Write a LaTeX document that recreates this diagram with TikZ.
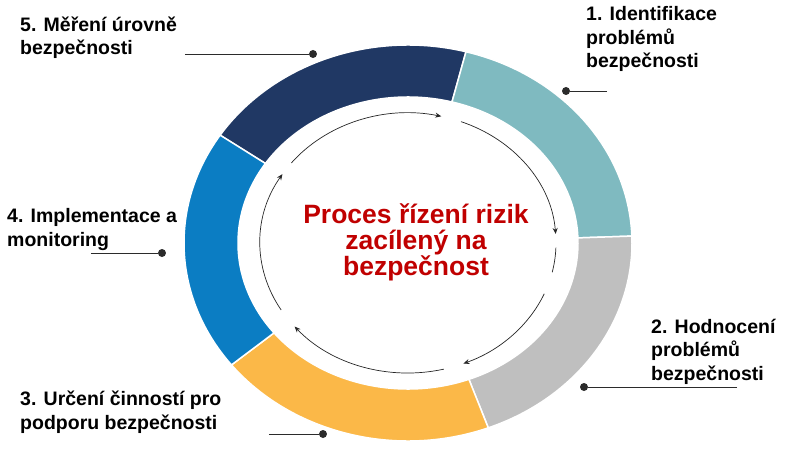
\documentclass[tikz,border=0pt]{standalone}
\usepackage{fontspec}
\setmainfont{Liberation Sans}
\usepackage{tikz}
\usetikzlibrary{arrows.meta,positioning}
\definecolor{segnavy}{HTML}{203864}
\definecolor{segteal}{HTML}{7FBAC0}
\definecolor{seggray}{HTML}{BFBFBF}
\definecolor{segorange}{HTML}{FBB848}
\definecolor{segblue}{HTML}{0B7DC3}
\definecolor{titlered}{HTML}{C00000}
\definecolor{leadgray}{HTML}{2B2B2B}
\tikzset{
  steplabel/.style={anchor=base west,align=left,inner sep=0pt,font=\fontsize{19.5}{23.5}\selectfont\bfseries},
  leaddot/.style={fill=leadgray,circle,inner sep=0pt,minimum size=8pt},
  leadline/.style={draw=leadgray,line width=0.9pt},
  cyclearc/.style={draw=black!85,line width=0.7pt}
}
\begin{document}
\begin{tikzpicture}[x=1pt,y=1pt]
      \useasboundingbox (-408,-207) rectangle (392,243);

      % ring segments
      \foreach \a/\b/\c in {75/147/segnavy,2/75/segteal,-69/2/seggray,-142/-69/segorange,147/218/segblue}
        \filldraw[fill=\c,draw=white,line width=1.5pt] (\a:224 and 198)
          arc[start angle=\a,end angle=\b,x radius=224pt,y radius=198pt]
          -- (\b:170 and 146)
          arc[start angle=\b,end angle=\a,x radius=170pt,y radius=146pt] -- cycle;

      % inner cycle
      \foreach \s/\e in {142/77,69/4,-23/-68,-76/-140,-149/-212}
        \draw[cyclearc,-{Stealth[length=6pt,width=5pt]}] (\s:148 and 130)
          arc[start angle=\s,end angle=\e,x radius=148pt,y radius=130pt];
      \draw[cyclearc] (-2:148 and 130) arc[start angle=-2,end angle=-13,x radius=148pt,y radius=130pt];

      \node[font=\fontsize{26.5}{26}\selectfont\bfseries,text=titlered,align=center] (title) at (8,1)
        {Proces řízení rizik\\zacílený na\\bezpečnost};

      % step labels (base = last line)
      \node[steplabel] (s1) at (178,175) {1. Identifikace\\problémů\\bezpečnosti};
      \node[steplabel] (s2) at (243,-137) {2. Hodnocení\\problémů\\bezpečnosti};
      \node[steplabel] (s3) at (-388,-186) {3. Určení činností pro\\podporu bezpečnosti};
      \node[steplabel] (s4) at (-401,-3) {4. Implementace a\\monitoring};
      \node[steplabel] (s5) at (-388,188) {5. Měření úrovně\\bezpečnosti};

      % leaders
      \node[leaddot] (d1) at (158,152) {};
      \node[leaddot] (d2) at (176,-144) {};
      \node[leaddot] (d3) at (-85,-191) {};
      \node[leaddot] (d4) at (-246,-10) {};
      \node[leaddot] (d5) at (-95,189) {};
      \coordinate (e1) at (199,152);
      \coordinate (e2) at (329,-144);
      \coordinate (e3) at (-139,-191);
      \coordinate (e4) at (-317,-10);
      \coordinate (e5) at (-223,189);
      \foreach \i in {1,...,5}
        \draw[leadline] (e\i) -- (d\i);
\end{tikzpicture}
\end{document}
